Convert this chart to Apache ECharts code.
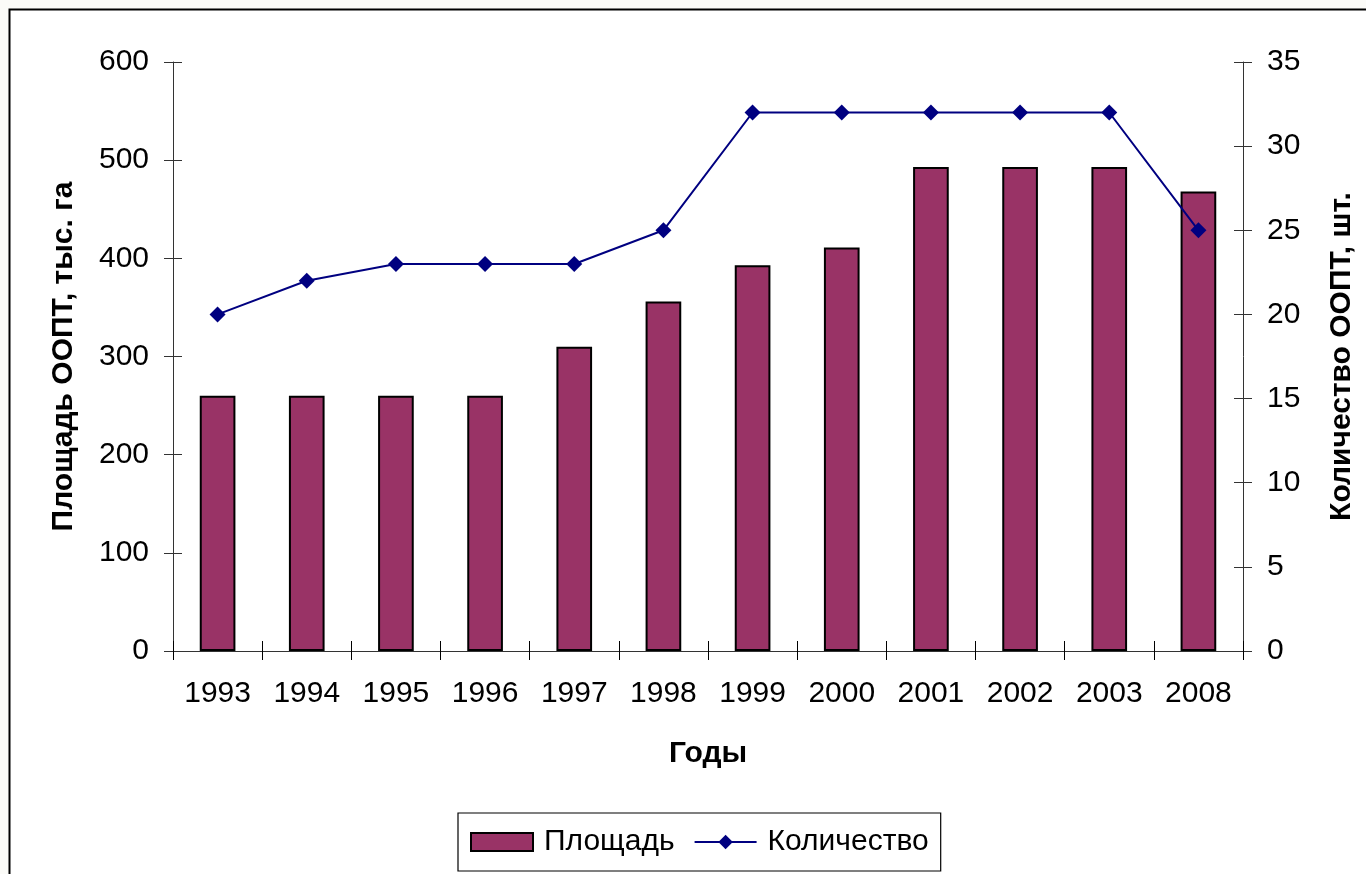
<!DOCTYPE html>
<html>
<head>
<meta charset="utf-8">
<script src="https://cdn.jsdelivr.net/npm/echarts@6/dist/echarts.min.js"></script>
<style>
html,body{margin:0;padding:0;background:#fbfbf8;}
#chart{width:1366px;height:874px;}
</style>
</head>
<body>
<div id="chart"></div>
<script>
const years = ['1993','1994','1995','1996','1997','1998','1999','2000','2001','2002','2003','2008'];
const areaValues = [260, 260, 260, 260, 310, 356, 393, 411, 493, 493, 493, 468];
const countValues = [20, 22, 23, 23, 23, 25, 32, 32, 32, 32, 32, 25];
const leftTicks = {min: 0, max: 600, interval: 100};
const rightTicks = {min: 0, max: 35, interval: 5};

const FONT = '"Liberation Sans", Arial, sans-serif';
const axisColor = '#333';

const chart = echarts.init(document.getElementById('chart'));
chart.setOption({
  backgroundColor: 'transparent',
  animation: false,
  textStyle: {fontFamily: FONT},
  graphic: [
    {type: 'rect', z: -10, shape: {x: 9.5, y: 9.5, width: 1400, height: 1000},
     style: {fill: '#fff', stroke: '#000', lineWidth: 2}}
  ],
  grid: {left: 173, right: 123, top: 62, bottom: 223, containLabel: false},
  legend: {
    left: 458, top: 813,
    padding: [14, 12, 14, 12],
    itemGap: 19,
    itemWidth: 62, itemHeight: 18,
    borderColor: '#000', borderWidth: 1.2,
    backgroundColor: '#fff',
    textStyle: {fontSize: 30, color: '#000', fontFamily: FONT, padding: [0, 0, 0, 6]},
    data: [
      {name: 'Площадь', icon: 'rect'},
      {name: 'Количество'}
    ]
  },
  xAxis: [
    {
      type: 'category', data: years, boundaryGap: true,
      name: 'Годы', nameLocation: 'middle', nameGap: 88,
      nameTextStyle: {fontSize: 30, fontWeight: 'bold', color: '#000', fontFamily: FONT},
      axisLine: {lineStyle: {color: axisColor, width: 1}},
      axisTick: {show: true, inside: false, length: 9, lineStyle: {color: '#000'}},
      axisLabel: {fontSize: 30, color: '#000', margin: 28, fontFamily: FONT},
      splitLine: {show: false}
    },
    {
      type: 'category', data: years, boundaryGap: true, position: 'bottom',
      axisLine: {show: false},
      axisTick: {show: true, inside: true, length: 10, lineStyle: {color: '#000'}},
      axisLabel: {show: false},
      splitLine: {show: false}
    }
  ],
  yAxis: [
    {
      type: 'value', position: 'left', min: leftTicks.min, max: leftTicks.max, interval: leftTicks.interval,
      name: 'Площадь ООПТ, тыс. га', nameLocation: 'middle', nameGap: 94, nameRotate: 90,
      nameTextStyle: {fontSize: 30, fontWeight: 'bold', color: '#000', fontFamily: FONT},
      axisLine: {show: true, lineStyle: {color: axisColor, width: 1}},
      axisTick: {show: true, inside: false, length: 9, lineStyle: {color: axisColor}},
      axisLabel: {fontSize: 30, color: '#000', margin: 24, fontFamily: FONT},
      splitLine: {show: false}
    },
    {
      type: 'value', position: 'left', min: leftTicks.min, max: leftTicks.max, interval: leftTicks.interval,
      axisLine: {show: false},
      axisTick: {show: true, inside: true, length: 9, lineStyle: {color: axisColor}},
      axisLabel: {show: false},
      splitLine: {show: false}
    },
    {
      type: 'value', position: 'right', min: rightTicks.min, max: rightTicks.max, interval: rightTicks.interval,
      name: 'Количество ООПТ, шт.', nameLocation: 'middle', nameGap: 84, nameRotate: 90,
      nameTextStyle: {fontSize: 30, fontWeight: 'bold', color: '#000', fontFamily: FONT},
      axisLine: {show: true, lineStyle: {color: axisColor, width: 1}},
      axisTick: {show: true, inside: false, length: 9, lineStyle: {color: axisColor}},
      axisLabel: {fontSize: 30, color: '#000', margin: 24, fontFamily: FONT},
      splitLine: {show: false}
    },
    {
      type: 'value', position: 'right', min: rightTicks.min, max: rightTicks.max, interval: rightTicks.interval,
      axisLine: {show: false},
      axisTick: {show: true, inside: true, length: 9, lineStyle: {color: axisColor}},
      axisLabel: {show: false},
      splitLine: {show: false}
    }
  ],
  series: [
    {
      name: 'Площадь', type: 'bar', xAxisIndex: 0, yAxisIndex: 0,
      data: areaValues, barWidth: '40%',
      itemStyle: {color: '#993366', borderColor: '#000', borderWidth: 2}
    },
    {
      name: 'Количество', type: 'line', xAxisIndex: 0, yAxisIndex: 2,
      data: countValues,
      symbol: 'diamond', symbolSize: 16,
      lineStyle: {color: '#000080', width: 2},
      itemStyle: {color: '#000080'}
    }
  ]
});
</script>
</body>
</html>
